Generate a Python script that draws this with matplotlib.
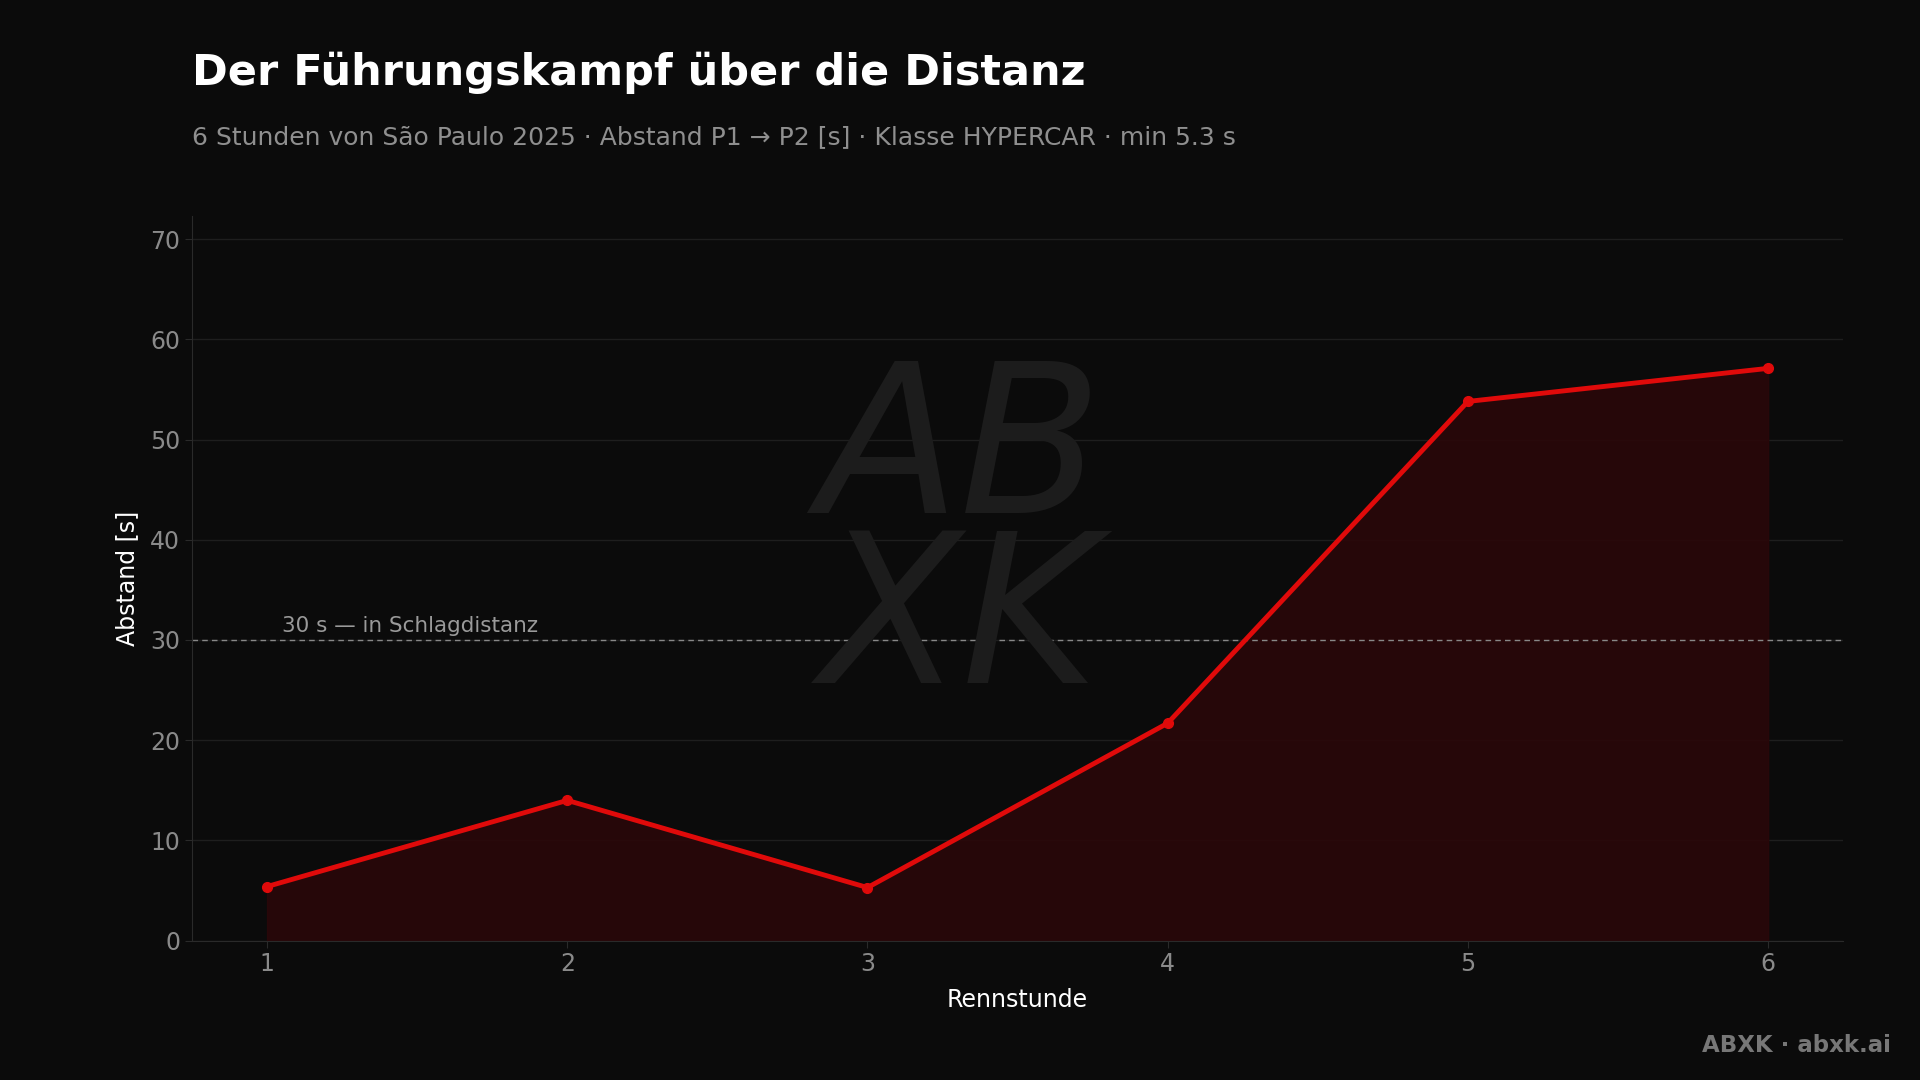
import matplotlib.pyplot as plt

hours = [1, 2, 3, 4, 5, 6]
gap = [5.4, 14.0, 5.3, 21.7, 53.8, 57.1]
yticks = [0, 10, 20, 30, 40, 50, 60, 70]
threshold = 30

bg = "#0b0b0b"
red = "#e00a0a"

fig = plt.figure(figsize=(19.2, 10.8), dpi=100, facecolor=bg)
ax = fig.add_axes([0.100, 0.129, 0.860, 0.671], facecolor=bg)

ax.fill_between(hours, gap, 0, color="#2a0709", alpha=0.9, zorder=1)
ax.plot(hours, gap, color=red, lw=3.5, marker="o", ms=7, zorder=3)
ax.axhline(threshold, color="#888888", lw=1, ls=(0, (4, 3)), zorder=2)
ax.text(1.05, threshold + 0.4, "30 s — in Schlagdistanz", color="#9a9a9a",
        fontsize=15.5, va="bottom")

ax.set_xlim(0.75, 6.25)
ax.set_ylim(0, 72.3)
ax.set_xticks(hours)
ax.set_yticks(yticks)
ax.grid(axis="y", color="#1e1e1e", lw=1)
ax.set_axisbelow(True)
for s in ["top", "right"]:
    ax.spines[s].set_visible(False)
for s in ["left", "bottom"]:
    ax.spines[s].set_color("#2a2a2a")
ax.tick_params(colors="#8a8a8a", labelsize=17, length=5)
ax.tick_params(color="#2a2a2a")
ax.set_xlabel("Rennstunde", color="white", fontsize=17, labelpad=8)
ax.set_ylabel("Abstand [s]", color="white", fontsize=17, labelpad=8)

# watermark
fig.text(0.50, 0.50, "AB\nXK", color="#1c1c1c", fontsize=150, style="italic",
         ha="center", va="center", linespacing=0.8, zorder=0)

fig.text(0.100, 0.933, "Der Führungskampf über die Distanz", color="white",
         fontsize=31, fontweight="bold", va="center")
fig.text(0.100, 0.873, "6 Stunden von São Paulo 2025 · Abstand P1 → P2 [s] · Klasse HYPERCAR · min 5.3 s",
         color="#8f8f8f", fontsize=18, va="center")
fig.text(0.985, 0.032, "ABXK · abxk.ai", color="#777777", fontsize=16.5,
         fontweight="bold", ha="right", va="center")

fig.savefig("out.png", dpi=100, facecolor=bg)
